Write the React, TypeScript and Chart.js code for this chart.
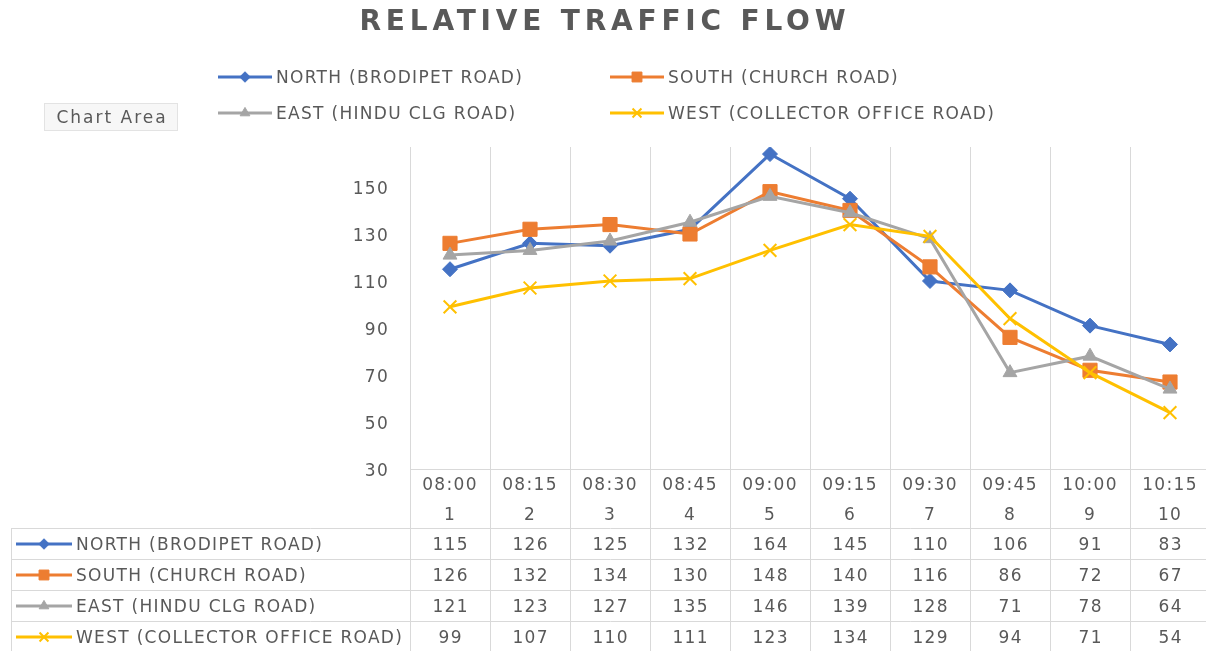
import React, { useEffect, useRef } from 'react';
import { Chart, registerables } from 'chart.js';
import { drawPoint } from 'chart.js/helpers';

Chart.register(...registerables);

const times = ['08:00', '08:15', '08:30', '08:45', '09:00', '09:15', '09:30', '09:45', '10:00', '10:15'];
const slots = ['1', '2', '3', '4', '5', '6', '7', '8', '9', '10'];

const north = [115, 126, 125, 132, 164, 145, 110, 106, 91, 83];
const south = [126, 132, 134, 130, 148, 140, 116, 86, 72, 67];
const east = [121, 123, 127, 135, 146, 139, 128, 71, 78, 64];
const west = [99, 107, 110, 111, 123, 134, 129, 94, 71, 54];

const seriesNames = [
  'NORTH (BRODIPET ROAD)',
  'SOUTH (CHURCH ROAD)',
  'EAST (HINDU CLG ROAD)',
  'WEST (COLLECTOR OFFICE ROAD)',
];
const seriesColors = ['#4472C4', '#ED7D31', '#A5A5A5', '#FFC000'];
const seriesStyles = ['rectRot', 'rect', 'triangle', 'crossRot'];
const seriesRadius = [7.5, 10, 8, 9];

const yTickValues = [30, 50, 70, 90, 110, 130, 150];
const titleText = 'RELATIVE TRAFFIC FLOW';

const FONT = '"DejaVu Sans", sans-serif';
const TEXT = '#595959';
const GRID = '#d9d9d9';
const SPACING = 1.3;
const BASE_FIX = 2;

function line(ctx: CanvasRenderingContext2D, x1: number, y1: number, x2: number, y2: number) {
  ctx.beginPath();
  ctx.moveTo(x1, y1);
  ctx.lineTo(x2, y2);
  ctx.stroke();
}

function text(
  ctx: CanvasRenderingContext2D,
  s: string,
  x: number,
  y: number,
  align: 'left' | 'center' | 'right',
  font: string,
  sp: number,
) {
  ctx.save();
  ctx.font = font;
  (ctx as any).letterSpacing = sp + 'px';
  ctx.fillStyle = TEXT;
  ctx.textAlign = 'left';
  ctx.textBaseline = 'middle';
  const w = ctx.measureText(s).width - sp;
  let sx = x;
  if (align === 'center') sx = x - w / 2;
  else if (align === 'right') sx = x - w;
  ctx.fillText(s, sx, y + BASE_FIX);
  ctx.restore();
}

function legendSymbol(ctx: CanvasRenderingContext2D, i: number, x1: number, x2: number, y: number) {
  ctx.save();
  ctx.strokeStyle = seriesColors[i];
  ctx.lineWidth = 3;
  line(ctx, x1, y, x2, y);
  ctx.fillStyle = seriesColors[i];
  ctx.strokeStyle = seriesColors[i];
  ctx.lineWidth = i === 3 ? 2 : 1;
  drawPoint(
    ctx,
    { pointStyle: seriesStyles[i], radius: seriesRadius[i] * 0.7, rotation: 0, borderWidth: i === 3 ? 2 : 1 } as any,
    (x1 + x2) / 2,
    y,
  );
  ctx.restore();
}

const spacingPlugin = {
  id: 'spacing',
  beforeDraw(chart: any) {
    (chart.ctx as any).letterSpacing = SPACING + 'px';
  },
};

const decorPlugin = {
  id: 'decor',
  afterDraw(chart: any) {
    const ctx: CanvasRenderingContext2D = chart.ctx;
    (ctx as any).letterSpacing = '0px';
    const xs = chart.scales.x;
    const area = chart.chartArea;
    const n = times.length;
    const step = xs.getPixelForValue(1) - xs.getPixelForValue(0);
    const rows = chart.data.datasets.length;
    const rowTop = 528;
    const rowH = 31;
    const tableBottom = rowTop + rowH * rows;
    const tableLeft = 11;
    const rightEdge = xs.getPixelForValue(n - 1) + step / 2;
    const f17 = `17px ${FONT}`;

    ctx.save();
    ctx.strokeStyle = GRID;
    ctx.lineWidth = 1;
    for (let i = 0; i <= n; i++) {
      const px = Math.round(xs.getPixelForValue(i) - step / 2) + 0.5;
      line(ctx, px, area.bottom, px, tableBottom);
    }
    for (let r = 0; r <= rows; r++) {
      const py = rowTop + r * rowH + 0.5;
      line(ctx, tableLeft, py, rightEdge, py);
    }
    line(ctx, tableLeft + 0.5, rowTop, tableLeft + 0.5, tableBottom);

    chart.data.datasets.forEach((ds: any, r: number) => {
      const cy = rowTop + r * rowH + rowH / 2 + 0.5;
      legendSymbol(ctx, r, 16, 72, cy);
      text(ctx, seriesNames[r], 76, cy, 'left', f17, SPACING);
      ds.data.forEach((v: number, i: number) => {
        text(ctx, String(v), xs.getPixelForValue(i), cy, 'center', f17, SPACING);
      });
    });

    // title
    text(ctx, titleText, 602.5, 21, 'center', `bold 28px ${FONT}`, 4.8);

    // legend (2 x 2)
    const cols = [218, 610];
    const lrows = [77, 113];
    seriesNames.forEach((name, i) => {
      const lx = cols[i % 2];
      const ly = lrows[Math.floor(i / 2)];
      legendSymbol(ctx, i, lx, lx + 54, ly);
      text(ctx, name, lx + 58, ly, 'left', f17, SPACING);
    });

    // "Chart Area" tooltip box
    ctx.fillStyle = '#f7f7f7';
    ctx.fillRect(44, 103, 133, 27);
    ctx.strokeStyle = '#e3e3e3';
    ctx.strokeRect(44.5, 103.5, 133, 27);
    text(ctx, 'Chart Area', 111, 117, 'center', f17, 2);
    ctx.restore();
  },
};

export default function App() {
  const ref = useRef<HTMLCanvasElement>(null);

  useEffect(() => {
    if (!ref.current) return;
    Chart.defaults.font.family = FONT;
    Chart.defaults.color = TEXT;
    const labels = times.map((t, i) => [t, slots[i]]);
    const values = [north, south, east, west];
    const chart = new Chart(ref.current, {
      type: 'line',
      data: {
        labels,
        datasets: values.map((d, i) => ({
          label: seriesNames[i],
          data: d,
          borderColor: seriesColors[i],
          backgroundColor: seriesColors[i],
          borderWidth: 3,
          pointStyle: seriesStyles[i] as any,
          pointRadius: seriesRadius[i],
          pointBorderWidth: i === 3 ? 2 : 1,
          pointBackgroundColor: seriesColors[i],
          pointBorderColor: seriesColors[i],
          tension: 0,
          fill: false,
          order: 3 - i,
        })),
      },
      options: {
        responsive: false,
        animation: false,
        layout: { padding: { top: 147, left: 0, right: 20, bottom: 0 } },
        plugins: {
          legend: { display: false },
          title: { display: false },
          tooltip: { enabled: false },
        },
        scales: {
          x: {
            offset: true,
            grid: { display: true, offset: true, color: GRID, drawTicks: false },
            border: { display: true, color: GRID },
            ticks: {
              font: { size: 17, family: FONT, lineHeight: 1.76 },
              color: TEXT,
              padding: 2,
              maxRotation: 0,
              autoSkip: false,
            },
            afterFit: (s: any) => {
              s.height = 182;
            },
          },
          y: {
            min: 30,
            max: 167,
            grid: { display: false, drawTicks: false },
            border: { display: false },
            ticks: {
              stepSize: 20,
              font: { size: 17, family: FONT },
              color: TEXT,
              padding: 21,
              labelOffset: 3,
            },
            afterBuildTicks: (s: any) => {
              s.ticks = yTickValues.map((v) => ({ value: v }));
            },
            afterFit: (s: any) => {
              s.width = 410;
            },
          },
        },
      },
      plugins: [spacingPlugin, decorPlugin],
    });
    return () => chart.destroy();
  }, []);

  return (
    <div
      style={{
        position: 'fixed',
        left: 0,
        top: 0,
        width: 1206,
        height: 651,
        overflow: 'hidden',
        background: '#fff',
      }}
    >
      <canvas ref={ref} width={1230} height={651} style={{ display: 'block' }} />
    </div>
  );
}
